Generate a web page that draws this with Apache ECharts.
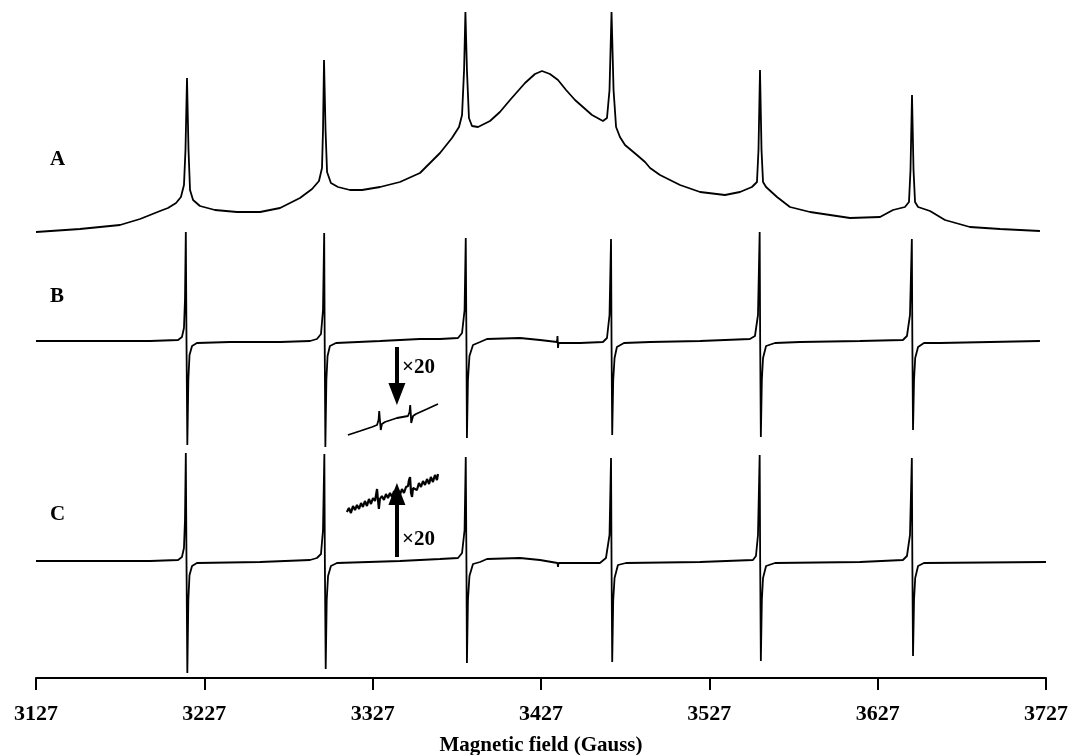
<!DOCTYPE html>
<html>
<head>
<meta charset="utf-8">
<script src="https://cdn.jsdelivr.net/npm/echarts@6/dist/echarts.min.js"></script>
<style>
  html, body { margin: 0; padding: 0; background: #fff; }
  #chart { width: 1074px; height: 755px; }
</style>
</head>
<body>
<div id="chart"></div>
<script>
// EPR spectra A, B, C: magnetic field (G) vs. signal (arbitrary units, relative to each trace's baseline)
const tickLabels = ['3127', '3227', '3327', '3427', '3527', '3627', '3727'];
const traceNames = ['A', 'B', 'C'];

// Trace A (absorption)
const aField = [3127.0, 3153.1, 3176.9, 3188.8, 3200.7, 3205.4, 3210.2, 3213.1, 3214.9, 3215.8, 3216.7, 3217.6, 3218.5,
  3220.3, 3224.4, 3233.3, 3246.4, 3260.1, 3272.0, 3283.8, 3291.0, 3295.1, 3296.9, 3297.5, 3298.1, 3299.0, 3299.9,
  3302.2, 3306.4, 3313.5, 3320.7, 3331.4, 3343.2, 3355.1, 3367.0, 3374.1, 3378.3, 3380.1, 3381.3, 3382.1, 3383.0,
  3384.2, 3386.0, 3389.6, 3396.7, 3402.6, 3408.6, 3417.5, 3423.4, 3427.6, 3432.3, 3437.1, 3441.9, 3447.2, 3457.3,
  3463.8, 3466.2, 3467.7, 3468.9, 3470.1, 3471.6, 3473.9, 3476.9, 3484.0, 3488.8, 3491.8, 3497.7, 3509.6, 3521.5,
  3536.3, 3545.2, 3552.3, 3555.3, 3556.2, 3557.1, 3558.0, 3558.9, 3560.7, 3567.2, 3574.9, 3586.8, 3610.6, 3628.4,
  3636.1, 3643.2, 3645.6, 3646.5, 3647.4, 3648.3, 3649.2, 3651.0, 3658.1, 3667.0, 3681.8, 3699.7, 3723.4];
const aSignal = [0, 3, 7, 13, 21, 24, 29, 35, 47, 82, 154, 82, 42,
  32, 26, 22, 20, 20, 24, 34, 43, 51, 64, 102, 172, 102, 60,
  49, 45, 42, 42, 45, 50, 59, 79, 94, 105, 117, 162, 220, 162,
  114, 106, 105, 111, 120, 132, 149, 158, 161, 158, 152, 142, 132, 117,
  111, 114, 142, 220, 142, 105, 95, 87, 77, 70, 64, 57, 47, 40,
  37, 40, 45, 50, 82, 162, 82, 50, 45, 35, 25, 20, 14, 15,
  22, 25, 30, 62, 137, 62, 30, 25, 21, 12, 5, 3, 1];

// Trace B (first derivative)
const bField = [3127.0, 3194.7, 3211.4, 3213.7, 3214.9, 3215.5, 3216.0, 3216.4, 3216.9, 3217.5, 3218.2, 3219.7, 3222.6,
  3242.2, 3272.0, 3289.8, 3293.9, 3296.3, 3297.5, 3298.2, 3298.5, 3298.9, 3299.5, 3300.2, 3301.6, 3305.2,
  3331.4, 3355.1, 3367.0, 3377.7, 3380.1, 3381.6, 3382.3, 3382.7, 3383.0, 3383.6, 3384.5, 3386.6, 3390.8, 3394.9,
  3414.5, 3426.4, 3436.5, 3436.8, 3437.1, 3437.4, 3450.2, 3463.8, 3466.2, 3467.7, 3468.6, 3468.9, 3469.3,
  3469.9, 3470.7, 3472.1, 3476.3, 3491.8, 3521.5, 3551.1, 3554.1, 3555.9, 3556.9, 3557.2, 3557.6, 3558.2,
  3558.9, 3560.7, 3566.0, 3580.9, 3616.5, 3642.0, 3644.4, 3646.2, 3647.3, 3647.6, 3648.0, 3648.6, 3649.3,
  3651.0, 3654.5, 3664.0, 3723.4];
const bSignal = [0, 0, 1, 4, 13, 41, 109, 0, -104, -39, -14, -5, -2,
  -1, -1, 0, 2, 7, 31, 108, 0, -106, -39, -15, -5, -2,
  0, 2, 2, 3, 8, 31, 103, 0, -97, -39, -15, -4, -1, 2,
  3, 1, -1, 5, -7, -2, -2, -1, 3, 26, 102, 0, -94,
  -39, -17, -6, -2, -1, 0, 2, 5, 26, 109, 0, -96, -39,
  -17, -5, -2, -1, 0, 1, 5, 26, 102, 0, -89, -39, -17,
  -6, -2, -2, 0];

// Trace B, ×20 enlargement
const bZoomField = [3312.3, 3319.5, 3326.6, 3329.6, 3330.5, 3330.9, 3331.4, 3331.8, 3332.5, 3334.3, 3341.4,
  3348.0, 3348.9, 3349.3, 3349.7, 3349.9, 3351.0, 3352.7, 3359.3, 3365.8];
const bZoomSignal = [-94, -90, -86, -84, -79, -70, -81, -89, -83, -81, -77,
  -75, -71, -64, -74, -82, -75, -73, -68, -63];

// Trace C (first derivative)
const cField = [3127.0, 3194.7, 3211.4, 3213.7, 3214.9, 3215.5, 3216.0, 3216.4, 3216.9, 3217.5, 3218.2, 3219.7, 3222.6,
  3260.1, 3289.8, 3293.9, 3296.3, 3297.5, 3298.3, 3298.6, 3299.1, 3299.7, 3300.5, 3302.2, 3305.8,
  3343.2, 3367.0, 3377.7, 3380.1, 3381.6, 3382.3, 3382.7, 3383.0, 3383.6, 3384.5, 3386.6, 3390.8, 3394.9,
  3414.5, 3426.4, 3436.8, 3437.1, 3437.4, 3462.0, 3465.6, 3467.7, 3468.6, 3468.9, 3469.3, 3469.9, 3470.7,
  3472.7, 3477.5, 3521.5, 3552.9, 3554.7, 3555.9, 3556.9, 3557.2, 3557.6, 3558.2, 3558.9, 3560.7, 3566.0,
  3616.5, 3642.0, 3644.4, 3646.2, 3647.3, 3647.6, 3648.0, 3648.6, 3649.3, 3651.0, 3654.5, 3727.0];
const cSignal = [0, 0, 1, 4, 13, 41, 108, 0, -112, -39, -14, -5, -2,
  -1, 1, 3, 7, 31, 107, 0, -108, -39, -15, -5, -2,
  0, 2, 3, 8, 31, 104, 0, -102, -39, -15, -3, -1, 2,
  3, 1, -2, -6, -2, -2, 3, 26, 103, 0, -101, -39, -17,
  -4, -2, -1, 1, 5, 26, 106, 0, -100, -39, -17, -5, -2,
  -1, 1, 5, 26, 103, 0, -95, -39, -17, -5, -2, -1];

// Trace C, ×20 enlargement (noisy)
const cZoomField = [3311.7, 3312.9, 3314.1, 3315.3, 3316.5, 3317.7, 3318.9, 3320.1, 3321.2, 3322.4, 3323.6, 3324.8,
  3326.0, 3327.2, 3328.4, 3329.0, 3329.6, 3330.1, 3330.7, 3331.3, 3332.5, 3333.7, 3334.9, 3336.1, 3337.3, 3338.5,
  3339.7, 3340.8, 3342.0, 3343.2, 3344.4, 3345.6, 3346.8, 3348.0, 3348.6, 3349.2, 3349.8, 3350.4, 3351.0, 3352.1,
  3353.3, 3354.5, 3355.7, 3356.9, 3358.1, 3359.3, 3360.5, 3361.6, 3362.8, 3364.0, 3365.2, 3365.8];
const cZoomSignal = [49, 53, 48, 55, 51, 56, 52, 58, 54, 60, 55, 62,
  57, 63, 60, 66, 72, 62, 52, 62, 65, 61, 67, 63, 68, 64,
  70, 65, 71, 66, 72, 68, 74, 75, 81, 84, 68, 64, 73, 75,
  71, 78, 74, 80, 76, 82, 77, 84, 79, 86, 81, 87];

// Vertical stacking of the three traces on a shared display scale
const offsetA = 446, offsetB = 337, offsetC = 117;
const stack = (xs, ys, off) => xs.map((x, i) => [x, ys[i] + off]);

const serif = '"Liberation Serif", "Times New Roman", serif';
const traceBase = {
  type: 'line', showSymbol: false, symbol: 'none', silent: true, animation: false,
  lineStyle: { color: '#000', width: 1.8 }
};

const arrowMark = (x, from, to) => ({
  silent: true, animation: false, symbol: ['none', 'triangle'], symbolSize: [17, 22],
  label: { show: false }, lineStyle: { color: '#000', width: 4, type: 'solid' },
  data: [[{ coord: [x, from] }, { coord: [x, to] }]]
});

const labelFont = 'bold 21px ' + serif;

const chart = echarts.init(document.getElementById('chart'), null, { renderer: 'canvas' });
chart.setOption({
  animation: false,
  grid: { left: 36, right: 28, top: 0, bottom: 77, containLabel: false, outerBoundsMode: 'none' },
  xAxis: {
    type: 'value', min: 3127, max: 3727, interval: 100,
    name: 'Magnetic field (Gauss)', nameLocation: 'middle', nameGap: 57,
    nameTextStyle: { fontFamily: serif, fontWeight: 'bold', fontSize: 21, color: '#000' },
    axisLine: { lineStyle: { color: '#000', width: 2 } },
    axisTick: { length: 12, lineStyle: { color: '#000', width: 2 } },
    axisLabel: {
      margin: 25, fontFamily: serif, fontWeight: 'bold', fontSize: 22, color: '#000',
      formatter: v => tickLabels.find(t => Number(t) === Math.round(v)) || ''
    },
    splitLine: { show: false }
  },
  yAxis: { type: 'value', min: 0, max: 678, show: false, splitLine: { show: false } },
  series: [
    Object.assign({ name: 'A', data: stack(aField, aSignal, offsetA) }, traceBase),
    Object.assign({ name: 'B', data: stack(bField, bSignal, offsetB) }, traceBase),
    Object.assign({ name: 'C', data: stack(cField, cSignal, offsetC) }, traceBase),
    Object.assign({ name: 'B ×20', data: stack(bZoomField, bZoomSignal, offsetB),
      markLine: arrowMark(3341.4, 331, 284) }, traceBase),
    Object.assign({ name: 'C ×20', data: stack(cZoomField, cZoomSignal, offsetC),
      markLine: arrowMark(3341.4, 121, 184) }, traceBase, { lineStyle: { color: '#000', width: 2.2 } })
  ],
  graphic: [
    { type: 'text', left: 50, top: 149, style: { text: traceNames[0], font: labelFont, fill: '#000' } },
    { type: 'text', left: 50, top: 286, style: { text: traceNames[1], font: labelFont, fill: '#000' } },
    { type: 'text', left: 50, top: 504, style: { text: traceNames[2], font: labelFont, fill: '#000' } },
    { type: 'text', left: 402, top: 357, style: { text: '×20', font: labelFont, fill: '#000' } },
    { type: 'text', left: 402, top: 529, style: { text: '×20', font: labelFont, fill: '#000' } }
  ]
});
</script>
</body>
</html>
